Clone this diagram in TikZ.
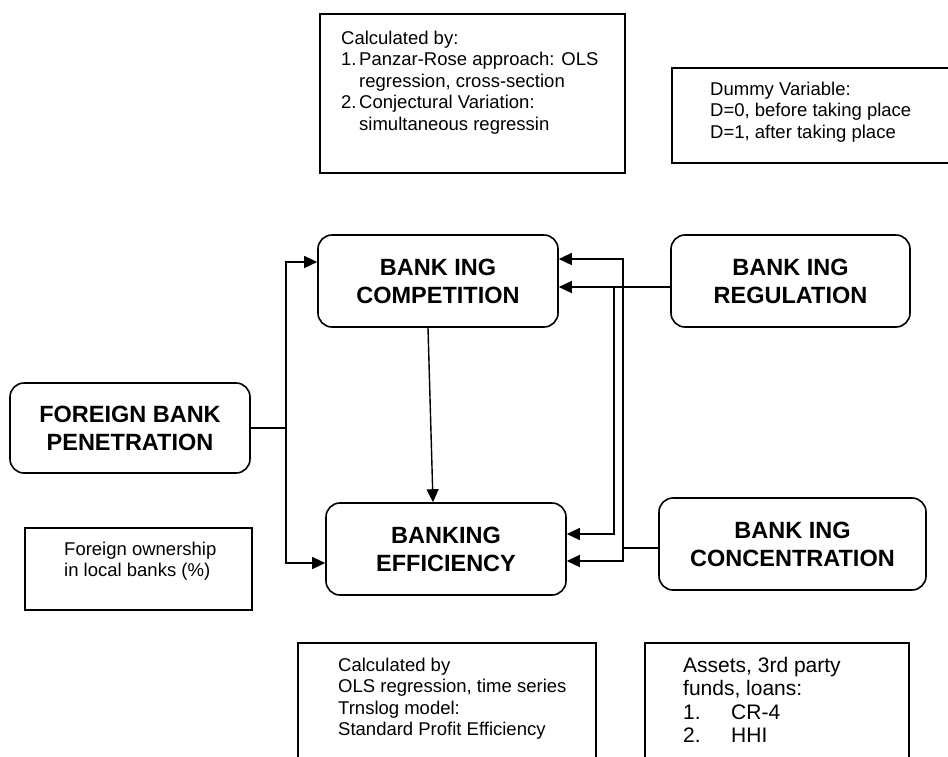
\documentclass[tikz,border=0pt]{standalone}
\usepackage{fontspec}
\setmainfont{Liberation Sans}
\usetikzlibrary{arrows.meta}
\tikzset{
  mainbox/.style={draw, line width=1.6pt, rounded corners=14pt, minimum width=240pt,
    minimum height=92pt, align=center, font=\bfseries\fontsize{23.5}{28}\selectfont},
  notebox/.style={draw, line width=1.6pt, anchor=north west, inner sep=0pt},
  notetext/.style={anchor=north west, align=left, inner sep=0pt,
    font=\fontsize{18.5}{21.5}\selectfont},
  link/.style={line width=1.4pt, -{Triangle[length=13pt,width=12pt]}},
}
\begin{document}
\begin{tikzpicture}[x=1pt,y=-1pt]
   \useasboundingbox (0,0) rectangle (948,756);
   % main boxes
   \node[mainbox] (comp) at (438,281) {BANK ING\\COMPETITION};
   \node[mainbox, minimum width=239pt] (reg) at (790.5,281) {BANK ING\\REGULATION};
   \node[mainbox, minimum height=90pt] (foreign) at (130,428) {FOREIGN BANK\\PENETRATION};
   \node[mainbox] (eff) at (446,549) {BANKING\\EFFICIENCY};
   \node[mainbox, minimum width=267pt] (conc) at (792.5,544) {BANK ING\\CONCENTRATION};
   % notes
   \node[notebox, minimum width=305pt, minimum height=159pt] (calcbox) at (319,13) {};
   \node[notetext] (calctext) at (341,30.5) {Calculated by:\\
      \makebox[18pt][l]{1.}Panzar-Rose approach: OLS\\
      \hspace*{18pt}regression, cross-section\\
      \makebox[18pt][l]{2.}Conjectural Variation:\\
      \hspace*{18pt}simultaneous regressin};
   \node[notebox, minimum width=285pt, minimum height=95pt] (dummybox) at (671,67) {};
   \node[notetext] (dummytext) at (710,81.5) {Dummy Variable:\\D=0, before taking place\\D=1, after taking place};
   \node[notebox, minimum width=227pt, minimum height=82pt] (ownbox) at (24,527) {};
   \node[notetext] (owntext) at (64,541.5) {Foreign ownership\\in local banks (\%)};
   \node[notebox, minimum width=298pt, minimum height=130pt] (effbox) at (297,642) {};
   \node[notetext] (efftext) at (338,657.5) {Calculated by\\OLS regression, time series\\Trnslog model:\\Standard Profit Efficiency};
   \node[notebox, minimum width=264pt, minimum height=130pt] (concbox) at (644,642) {};
   \node[notetext, font=\fontsize{21}{23.5}\selectfont] (conctext) at (683,657) {Assets, 3rd party\\funds, loans:\\
      \makebox[48pt][l]{1.}CR-4\\\makebox[48pt][l]{2.}HHI};
   % connectors
   \coordinate (fork) at (286,428);
   \coordinate (regfork) at (614,287);
   \coordinate (concfork) at (623,548);
   \draw[line width=1.4pt] (foreign.east) -- (fork);
   \draw[link] (fork) |- ([yshift=19pt]comp.west);
   \draw[link] (fork) |- ([yshift=-14pt]eff.west);
   \draw[link] ([xshift=-10pt]comp.south) -- ([xshift=-13pt]eff.north);
   \draw[link] ([yshift=-6pt]reg.west) -- ([yshift=-6pt]comp.east);
   \draw[link] (regfork) |- ([yshift=15pt]eff.east);
   \draw[line width=1.4pt] ([yshift=-4pt]conc.west) -- (concfork);
   \draw[link] (concfork) |- ([yshift=22pt]comp.east);
   \draw[link] (concfork) |- ([yshift=-12pt]eff.east);
\end{tikzpicture}
\end{document}
